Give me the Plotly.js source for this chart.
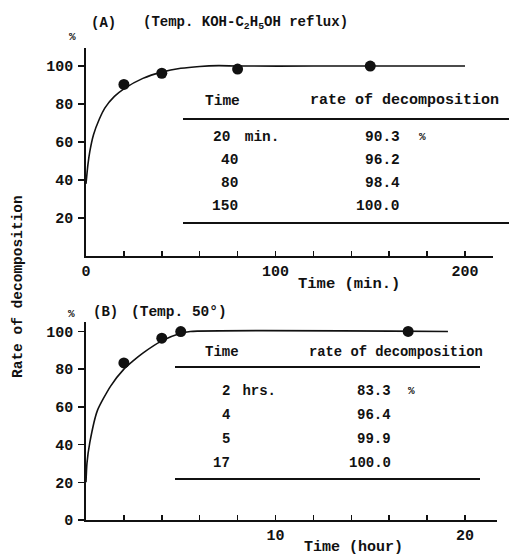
<!DOCTYPE html>
<html><head><meta charset="utf-8">
<script src="https://cdn.plot.ly/plotly-3.0.1.min.js"></script>
<style>html,body{margin:0;padding:0;background:#fff}#c{width:509px;height:557px}</style>
</head><body><div id="c"></div>
<script>
// Panel A data (KOH-C2H5OH reflux), time in min
const timeA = [20, 40, 80, 150];
const rateA = [90.3, 96.2, 98.4, 100.0];
// fitted curve A
const curveAx = [0, 1, 2, 4, 7, 10, 15, 20, 30, 40, 50, 60, 70, 80, 120, 200];
const curveAy = [38, 48, 55, 64, 72, 78, 84, 88, 93.5, 96.8, 98.8, 99.8, 100.2, 100, 100, 100];
// Panel B data (50°), time in hours
const timeB = [2, 4, 5, 17];
const rateB = [83.3, 96.4, 99.9, 100.0];
const curveBx = [0, 0.05, 0.2, 0.6, 1.3, 2, 2.5, 3, 4, 5, 5.5, 19.1];
const curveBy = [20, 30, 41, 58, 71, 80, 84.5, 88.5, 95, 99, 100, 100];

const W = 509, H = 557;
const px = x => x / W, py = y => 1 - y / H;
const FONT = 'Liberation Mono';
const ink = '#111';
const f = (s) => ({family: FONT, size: s, color: ink, weight: 'bold'});

const traces = [
  {x: curveAx, y: curveAy, mode: 'lines', line: {color: ink, width: 1.6, shape: 'spline', smoothing: 0.6}, xaxis: 'x', yaxis: 'y', hoverinfo: 'skip'},
  {x: timeA, y: rateA, mode: 'markers', marker: {color: ink, size: 11}, xaxis: 'x', yaxis: 'y'},
  {x: curveBx, y: curveBy, mode: 'lines', line: {color: ink, width: 1.6, shape: 'spline', smoothing: 0.6}, xaxis: 'x2', yaxis: 'y2', hoverinfo: 'skip'},
  {x: timeB, y: rateB, mode: 'markers', marker: {color: ink, size: 11}, xaxis: 'x2', yaxis: 'y2'}
];

const tvA = [0,20,40,60,80,100,120,140,160,180,200];
const ttA = tvA.map(v => v % 100 === 0 ? String(v) : '');
const tvB = [0,2,4,6,8,10,12,14,16,18,20];
const ttB = tvB.map(v => (v === 10 || v === 20) ? String(v) : '');

const axBase = {showgrid: false, zeroline: false, showline: true, linecolor: ink, linewidth: 1.8, tickcolor: ink, tickwidth: 1.5, tickfont: f(15), fixedrange: true};

const annotations = [];
const shapes = [];
function txt(x, y, text, xa, size) {
  annotations.push({xref: 'paper', yref: 'paper', x: px(x), y: py(y), text: text, showarrow: false, xanchor: xa || 'center', yanchor: 'middle', font: f(size || 14)});
}
function hline(x0, x1, y) {
  shapes.push({type: 'line', xref: 'paper', yref: 'paper', x0: px(x0), x1: px(x1), y0: py(y), y1: py(y), line: {color: ink, width: 1.8}});
}

// Panel A texts
txt(89, 23, '(A)', 'left', 14);
txt(141, 23, '(Temp. KOH-C<sub>2</sub>H<sub>5</sub>OH reflux)', 'left', 14);
txt(72, 37, '%', 'center', 11);
txt(203, 101, 'Time', 'left', 14.5);
txt(308, 101, 'rate of decomposition', 'left', 15);
hline(183, 509, 119);
hline(183, 509, 223);
const rowYA = [137, 160, 183, 206];
timeA.forEach((t, i) => {
  txt(i === 0 ? 232 : 240, rowYA[i], String(t), 'right', 14.5);
  txt(402, rowYA[i], rateA[i].toFixed(1), 'right', 14.5);
});
txt(234, rowYA[0], ' min.', 'left', 14.5);
txt(417, rowYA[0], '%', 'left', 11);
txt(349, 284, 'Time (min.)', 'center', 15.5);

// Panel B texts
txt(71, 314, '%', 'center', 11);
txt(91, 312, '(B)', 'left', 14);
txt(129, 312, '(Temp. 50°)', 'left', 14.5);
txt(203, 352, 'Time', 'left', 14);
txt(307, 352, 'rate of decomposition', 'left', 13.8);
hline(175, 480, 367);
hline(175, 480, 479);
const rowYB = [391, 415, 439, 463];
timeB.forEach((t, i) => {
  txt(232, rowYB[i], String(t), 'right', 14);
  txt(393, rowYB[i], rateB[i].toFixed(1), 'right', 14);
});
txt(232, rowYB[0], ' hrs.', 'left', 14);
txt(406, rowYB[0], '%', 'left', 11);
txt(353, 547, 'Time (hour)', 'center', 15);

// shared y title
annotations.push({xref: 'paper', yref: 'paper', x: px(18), y: py(287), text: 'Rate of decomposition', textangle: -90, showarrow: false, xanchor: 'center', yanchor: 'middle', font: f(14.5)});

const layout = {
  width: W, height: H,
  margin: {l: 0, r: 0, t: 0, b: 0},
  paper_bgcolor: '#fff', plot_bgcolor: 'rgba(0,0,0,0)',
  showlegend: false,
  font: {family: FONT},
  xaxis: Object.assign({}, axBase, {domain: [px(86), px(86 + 215 * 1.895)], range: [0, 215], anchor: 'y', tickmode: 'array', tickvals: tvA, ticktext: ttA, ticks: 'inside', ticklen: 5}),
  yaxis: Object.assign({}, axBase, {domain: [py(256), py(48)], range: [0, 109.5], anchor: 'x', tickmode: 'array', tickvals: [20,40,60,80,100], ticks: 'outside', ticklen: 6, ticklabelstandoff: 2}),
  xaxis2: Object.assign({}, axBase, {domain: [px(86), px(86 + 21.7 * 18.95)], range: [0, 21.7], anchor: 'y2', tickmode: 'array', tickvals: tvB, ticktext: ttB, ticks: 'inside', ticklen: 5}),
  yaxis2: Object.assign({}, axBase, {domain: [py(520), py(322)], range: [0, 105], anchor: 'x2', tickmode: 'array', tickvals: [0,20,40,60,80,100], ticks: 'outside', ticklen: 6, ticklabelstandoff: 2}),
  annotations: annotations,
  shapes: shapes
};
Plotly.newPlot('c', traces, layout, {displayModeBar: false, staticPlot: true});
</script></body></html>
